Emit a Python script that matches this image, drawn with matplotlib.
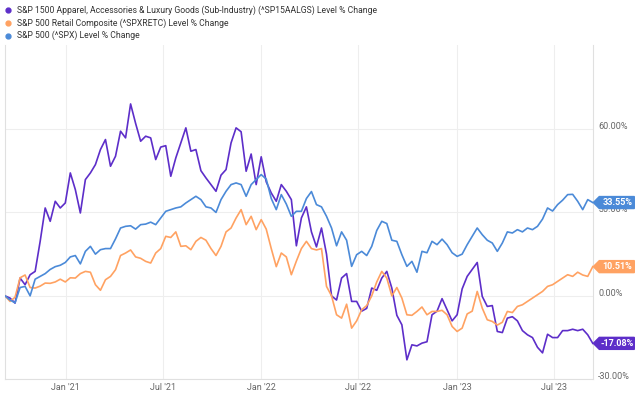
import matplotlib
matplotlib.use("Agg")
import matplotlib.pyplot as plt
import matplotlib.dates as mdates
from matplotlib.patches import Polygon
from matplotlib.transforms import IdentityTransform
import numpy as np
import pandas as pd

plt.rcParams['font.family'] = ['Roboto', 'DejaVu Sans']

# values, evenly spaced from Sep 2020 to Sep 2023
apparel = [0, -0.8, -2.6, 6.4, 4, 7.6, 8.8, 19.6, 31.6, 26.8, 34, 31.6, 33.4, 44.2, 38.2,
           29.8, 41.8, 44.2, 47.2, 52.6, 56.2, 46.6, 50.2, 59.2, 56.8, 69, 62, 55.6, 57.4, 56.8,
           49, 53.5, 54, 43, 49.6, 55, 60.4, 52, 52.6, 45, 42.4, 40, 37.6, 43.4, 45.4,
           55, 60.4, 59, 44.8, 51, 40, 50, 41, 37, 34, 40, 37.6, 34.6, 18,
           28, 32, 23, 17.6, 24.4, 15, 0, -1.5, 6.4, 8, -2, -2, -5.5, -4.5, 2.8,
           2, 6.4, 8.8, 2.8, -7, -10.4, -23, -17.6, -18, -17, -16.5, -6.8, -5.5, -1,
           -5, -9, -6.8, 2.5, 7, 9.5, 12, -0.2, -3.8, -3.5, -12.8, -13.2, -8, -7.5, -9,
           -12.5, -14, -15, -18.5, -20.5, -13.8, -15, -15, -12.5, -12.5, -12, -12.5, -12, -14, -17.08]
retail = [0, -2, -0.5, 6.5, 7.5, 3, 2.8, 3.5, 4.6, 4.5, 5, 6, 5, 6.5, 6.4,
          8, 8.8, 8.5, 4, 2, 5.8, 7, 9.4, 14.5, 15.4, 16.5, 14, 13.5, 12.4, 11.8,
          15.4, 17, 21.4, 21, 23, 17.8, 18, 16.6, 19.6, 21, 20, 17, 14.5, 17.8, 23,
          24.4, 28, 31, 25.6, 28.6, 23.8, 27.4, 24, 17, 10.5, 15.4, 14, 7.6, 12.5,
          17, 19.6, 17, 16.5, 17, 3.4, 0, -6.8, -8, -3, -11.6, -9, -5, -3.5, 0,
          5, 8.8, 6.4, 0, 3, -0.8, -6.8, -7, -5.6, -4, -6.8, -5.6, -5.6, -5.2,
          -6.8, -11, -12.8, -11.6, -6.5, -5.5, 1.6, -4.4, -8.6, -9.2, -10.5, -9.5, -5.6, -6, -3.8,
          -3.2, -2, -0.8, 0.4, 1.6, 3.4, 4, 5.2, 6.4, 7.6, 7, 8.5, 7.5, 7, 10.51]
spx = [0, -1.5, -2.5, 3, 3.4, 0, 6, 7, 8, 9.5, 10.5, 11, 12, 14, 14.5,
       11.5, 16, 17.8, 15, 16.6, 17, 17, 20.5, 24.4, 25, 25.2, 24, 25.6, 25.8, 26.5,
       25.6, 28, 30.4, 31, 31.6, 32, 33.4, 34.6, 35.8, 34.6, 32, 31.6, 30, 34.6, 37.6,
       40, 40.6, 40, 35.8, 40, 41.8, 43.6, 42, 35, 31, 36.4, 33, 28.6, 30.4,
       30.4, 35, 37.5, 32.8, 32, 28.6, 24.4, 18, 23, 20, 10.6, 14.8, 16, 14.5, 17.8,
       23.5, 26.8, 26, 20, 19.6, 14.8, 10.6, 12.4, 8.5, 16, 15.5, 19.6, 18.4, 20.4,
       18.4, 15.5, 14.2, 15, 18.4, 21.4, 24.4, 22, 20, 19, 16, 19, 23, 22.6, 23.8,
       23, 24.4, 23.8, 25, 27.6, 31.6, 30.5, 32.8, 34.4, 36.4, 36.5, 34, 31, 34.6, 33.55]

names = ["S&P 1500 Apparel, Accessories & Luxury Goods (Sub-Industry) (^SP15AALGS) Level % Change",
         "S&P 500 Retail Composite (^SPXRETC) Level % Change",
         "S&P 500 (^SPX) Level % Change"]
colors = ["#5d2ec9", "#ffa262", "#4b8ad8"]
series = [apparel, retail, spx]

dates = pd.date_range("2020-09-10", "2023-09-11", periods=len(spx))
yticks = [-30, 0, 30, 60]

fig = plt.figure(figsize=(6.4, 3.94), dpi=100)
ax = fig.add_axes([5/640, 14.7/394, 588.3/640, 334.6/394])

for vals, c in zip(series, colors):
    ax.plot(dates, vals, color=c, lw=1.2, zorder=3)

ax.set_xlim(pd.Timestamp("2020-09-10"), pd.Timestamp("2023-09-12"))
ax.set_ylim(-30, 90.3)
ax.set_yticks(yticks)
ax.yaxis.set_ticklabels([])
ax.yaxis.tick_right()
for t in yticks:
    ax.annotate(f"{t:.2f}%", xy=(1, t), xycoords=ax.get_yaxis_transform(),
                xytext=(5, 2.5), textcoords="offset pixels", va="center", ha="left",
                fontsize=6.5, color="#666666", annotation_clip=False)
ax.xaxis.set_major_locator(mdates.MonthLocator(bymonth=[1, 7]))
ax.xaxis.set_major_formatter(mdates.DateFormatter("%b '%y"))
ax.tick_params(length=0, labelsize=6.5, colors="#666666")
ax.tick_params(axis="x", pad=3)
ax.grid(True, color="#eeeeee", lw=0.8, zorder=0)
ax.spines["top"].set_visible(False)
for s in ["left", "bottom", "right"]:
    ax.spines[s].set_color("#e0e0e0")
    ax.spines[s].set_linewidth(0.8)

# legend at the top
for i, (n, c) in enumerate(zip(names, colors)):
    yy = 1 - (10 + 12.8*i)/394
    fig.lines.append(plt.Line2D([8/640], [yy], marker="o", ms=3.5, color=c, mec=c,
                                transform=fig.transFigure))
    fig.text(17/640, yy, n, fontsize=6.2, color="#333333", va="center", ha="left")

# end value tags
fig.canvas.draw()
for vals, c in zip(series, colors):
    py = ax.transData.transform((mdates.date2num(dates[-1]), vals[-1]))[1]
    px = ax.transAxes.transform((1, 0))[0]
    h = 6
    pts = [(px, py), (px + 6, py + h), (px + 41, py + h), (px + 41, py - h), (px + 6, py - h)]
    fig.patches.append(Polygon(pts, closed=True, color=c, transform=IdentityTransform()))
    fig.text((px + 24)/640, py/394, f"{vals[-1]:.2f}%", color="white", fontsize=6.5,
             fontweight="bold", ha="center", va="center")

fig.savefig("out.png", dpi=100)
